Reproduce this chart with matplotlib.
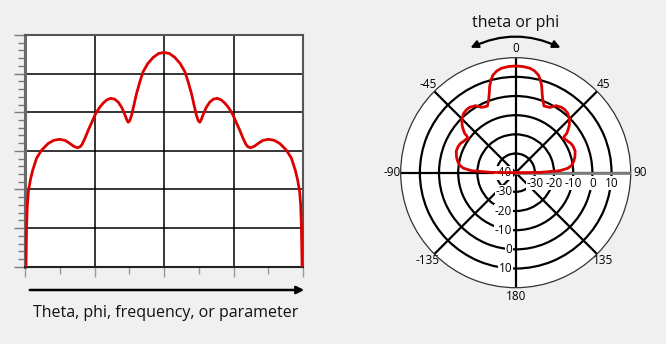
import numpy as np
import matplotlib
matplotlib.use("Agg")
import matplotlib.pyplot as plt
from matplotlib.patches import FancyArrowPatch

# ---- data: left (rectangular) pattern ----
x_left = [-89.4, -89.0, -88.5, -87.8, -86.5, -85.0, -82.5, -79.2, -75.0, -71.5,
          -67.8, -64.0, -60.9, -58.5, -56.2, -54.5, -53.0, -51.0, -49.0, -46.5,
          -44.3, -41.8, -39.3, -37.0, -34.6, -32.0, -29.6, -27.3, -25.3, -24.0,
          -23.2, -22.2, -21.0, -19.5, -17.8, -15.7, -13.5, -10.5, -7.0, -3.5,
          0.0,
          3.5, 7.0, 10.5, 13.5, 15.7, 17.8, 19.5, 21.0, 22.2, 23.2,
          24.0, 25.3, 27.3, 29.6, 32.0, 34.6, 37.0, 39.3, 41.8, 44.3,
          46.5, 49.0, 51.0, 53.0, 54.5, 56.2, 58.5, 60.9, 64.0, 67.8,
          71.5, 75.0, 79.2, 82.5, 85.0, 86.5, 87.8, 88.5, 89.0, 89.4]
y_left = [0.0, 1.0, 1.6, 1.95, 2.25, 2.5, 2.81, 3.02, 3.19, 3.27,
          3.30, 3.27, 3.19, 3.12, 3.08, 3.10, 3.17, 3.34, 3.54, 3.76,
          3.96, 4.12, 4.24, 4.32, 4.36, 4.34, 4.26, 4.12, 3.93, 3.80,
          3.74, 3.78, 3.92, 4.18, 4.48, 4.78, 5.05, 5.26, 5.42, 5.52,
          5.55,
          5.52, 5.42, 5.26, 5.05, 4.78, 4.48, 4.18, 3.92, 3.78, 3.74,
          3.80, 3.93, 4.12, 4.26, 4.34, 4.36, 4.32, 4.24, 4.12, 3.96,
          3.76, 3.54, 3.34, 3.17, 3.10, 3.08, 3.12, 3.19, 3.27, 3.30,
          3.27, 3.19, 3.02, 2.81, 2.5, 2.25, 1.95, 1.6, 1.0, 0.0]

# ---- data: polar pattern (degrees, dB) ----
theta_deg = [-90, -89.2, -87.4, -85.0, -82.2, -78.5, -74.9, -70.0, -65.7, -62.0,
             -59.5, -56.0, -54.2, -53.0, -52.4, -50.5, -48.4, -45.0, -41.2, -38.0,
             -35.1, -31.0, -27.7, -25.0, -23.0, -21.8, -20.4, -18.5, -16.8, -15.0,
             -13.1, -10.5, -7.8, -4.0, 0.0,
             4.0, 7.8, 10.5, 13.1, 15.0, 16.8, 18.5, 20.4, 21.8, 23.0,
             25.0, 27.7, 31.0, 35.1, 38.0, 41.2, 45.0, 48.4, 50.5, 52.4,
             53.0, 54.2, 56.0, 59.5, 62.0, 65.7, 70.0, 74.9, 78.5, 82.2,
             85.0, 87.4, 89.2, 90]
gain_db = [-40, -27.3, -16.9, -12.5, -10.4, -9.0, -8.0, -7.0, -7.0, -7.4,
           -8.1, -8.8, -9.4, -8.0, -6.4, -4.5, -2.6, -0.3, 1.2, 1.7,
           1.7, 0.8, -1.5, -2.0, -2.2, -1.0, 0.5, 3.5, 7.0, 10.0,
           12.3, 14.0, 15.0, 15.5, 15.7,
           15.5, 15.0, 14.0, 12.3, 10.0, 7.0, 3.5, 0.5, -1.0, -2.2,
           -2.0, -1.5, 0.8, 1.7, 1.7, 1.2, -0.3, -2.6, -4.5, -6.4,
           -8.0, -9.4, -8.8, -8.1, -7.4, -7.0, -7.0, -8.0, -9.0, -10.4,
           -12.5, -16.9, -27.3, -40]

ring_values = [-30, -20, -10, 0, 10]
theta_ticks = [0, 45, 90, 135, 180, 225, 270, 315]
theta_labels = ["0", "45", "90", "135", "180", "-135", "-90", "-45"]

bottom_label = "Theta, phi, frequency, or parameter"
polar_title = "theta or phi"

plt.rcParams['font.family'] = ['Open Sans', 'DejaVu Sans']
BG = "#f0f0f0"
RED = "#dd0000"

fig = plt.figure(figsize=(6.66, 3.44), dpi=100, facecolor=BG)

# ---------------- left rectangular chart ----------------
ax = fig.add_axes([25/666, 1-266.7/344, 278/666, 231.7/344])
ax.set_facecolor("white")
ax.plot(x_left, y_left, color=RED, lw=2.0, zorder=5, solid_joinstyle='round')
ax.set_xlim(-90, 90)
ax.set_ylim(0, 6)
ax.set_xticks([-90, -45, 0, 45, 90])
ax.set_xticks(np.arange(-90, 91, 22.5), minor=True)
ax.set_yticks(range(0, 7))
ax.set_yticks(np.arange(0, 6.01, 0.2), minor=True)
ax.set_xticklabels([])
ax.set_yticklabels([])
ax.grid(True, which='major', color='black', lw=1.1)
ax.tick_params(axis='y', which='major', length=8, width=1.0, color='#7a7a7a')
ax.tick_params(axis='y', which='minor', length=5, width=1.0, color='#7a7a7a')
ax.tick_params(axis='x', which='major', length=7, width=1.0, color='#9a9a9a')
ax.tick_params(axis='x', which='minor', length=5, width=1.0, color='#9a9a9a')
for s in ['top', 'right']:
    ax.spines[s].set_color('#555555')
    ax.spines[s].set_linewidth(1.5)
ax.spines['left'].set_color('#6a6a6a')
ax.spines['left'].set_linewidth(2.2)
ax.spines['bottom'].set_color('#222222')
ax.spines['bottom'].set_linewidth(1.5)

# arrow under left chart
fig.patches.append(FancyArrowPatch((27/666, 1-290/344), (307/666, 1-290/344),
                                   transform=fig.transFigure, arrowstyle='-|>',
                                   mutation_scale=11, lw=1.8, color='black'))
fig.text(166/666, 1-312.7/344, bottom_label, ha='center', va='center',
         fontsize=11.5, color='#111111')

# ---------------- polar chart ----------------
cx, cy, R = 515.7, 172.7, 115.0
pax = fig.add_axes([(cx-R)/666, (344-cy-R)/344, 2*R/666, 2*R/344], projection='polar')
pax.set_facecolor("white")
pax.set_theta_zero_location('N')
pax.set_theta_direction(-1)
pax.set_rlim(-40, 20)
pax.set_rgrids(ring_values, labels=[""]*len(ring_values))
pax.set_thetagrids(theta_ticks, labels=theta_labels, fontsize=8.5)
pax.tick_params(axis='x', pad=-4)
pax.grid(True, color='black', lw=1.6)
pax.spines['polar'].set_color('#333333')
pax.spines['polar'].set_linewidth(0.9)
# right half of horizontal axis in gray
pax.plot([np.deg2rad(90), np.deg2rad(90)], [-40, 20], color='#808080', lw=2.0, zorder=3)

# radial labels along the right horizontal axis
for v in ring_values:
    pax.annotate(str(v), xy=(np.deg2rad(90), v), xytext=(0, -3),
                 textcoords='offset points', ha='center', va='top', fontsize=8.5,
                 zorder=4, bbox=dict(boxstyle='square,pad=0.05', fc='white', ec='none'))
# radial labels along the downward vertical axis
for v in [-40] + ring_values:
    pax.annotate(str(v), xy=(np.deg2rad(180), v), xytext=(-2.5, 0),
                 textcoords='offset points', ha='right', va='center', fontsize=8.5,
                 zorder=4, bbox=dict(boxstyle='square,pad=0.05', fc='white', ec='none'))

pax.plot(np.deg2rad(theta_deg), gain_db, color=RED, lw=2.0, zorder=6)

# curved double arrow and title
fig.patches.append(FancyArrowPatch((468/666, 1-49/344), (563/666, 1-49/344),
                                   transform=fig.transFigure, arrowstyle='<|-|>',
                                   connectionstyle='arc3,rad=-0.25',
                                   mutation_scale=11, lw=1.6, color='black'))
fig.text(cx/666, 1-23/344, polar_title, ha='center', va='center',
         fontsize=11.5, color='#111111')

fig.savefig("out.png", dpi=100, facecolor=BG)
